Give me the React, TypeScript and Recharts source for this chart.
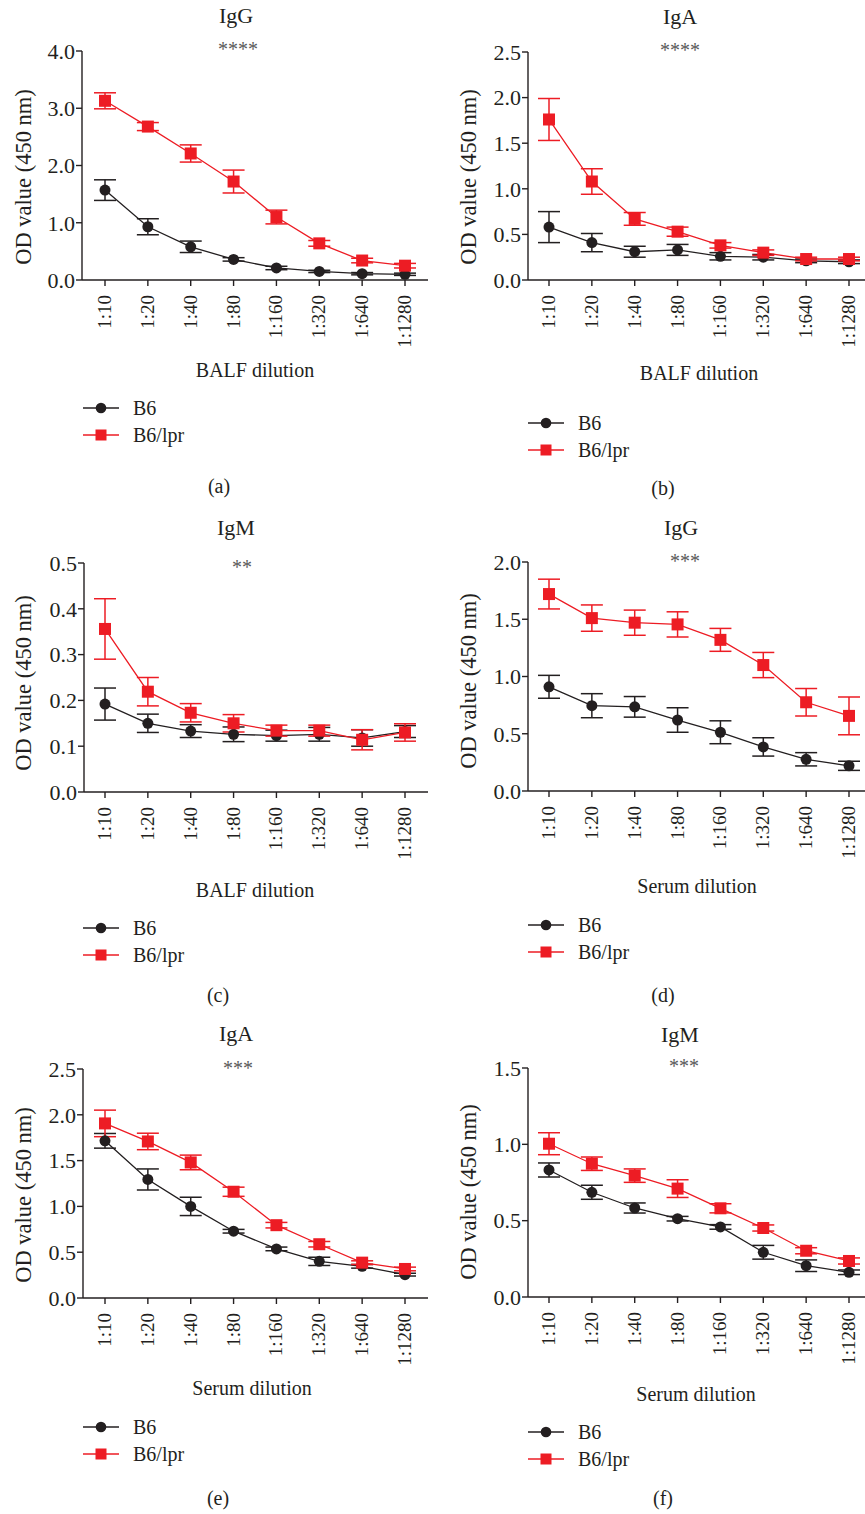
import React from 'react';
import { LineChart, Line, XAxis, YAxis, ErrorBar } from 'recharts';

const dilutions = ['1:10', '1:20', '1:40', '1:80', '1:160', '1:320', '1:640', '1:1280'];
const seriesNames = ['B6', 'B6/lpr'];

// (a) BALF IgG
const balfIgGB6 = [1.57, 0.93, 0.58, 0.36, 0.21, 0.15, 0.11, 0.1];
const balfIgGB6Err = [0.18, 0.14, 0.1, 0.03, 0.03, 0.02, 0.02, 0.02];
const balfIgGLpr = [3.13, 2.68, 2.21, 1.72, 1.1, 0.64, 0.34, 0.25];
const balfIgGLprErr = [0.14, 0.07, 0.15, 0.2, 0.12, 0.05, 0.04, 0.04];
const balfIgGTicks = [0, 1, 2, 3, 4];

// (b) BALF IgA
const balfIgAB6 = [0.58, 0.41, 0.31, 0.33, 0.26, 0.25, 0.21, 0.2];
const balfIgAB6Err = [0.17, 0.1, 0.06, 0.06, 0.04, 0.03, 0.02, 0.02];
const balfIgALpr = [1.76, 1.08, 0.67, 0.53, 0.38, 0.3, 0.23, 0.23];
const balfIgALprErr = [0.23, 0.14, 0.07, 0.05, 0.03, 0.03, 0.02, 0.02];
const balfIgATicks = [0, 0.5, 1, 1.5, 2, 2.5];

// (c) BALF IgM
const balfIgMB6 = [0.192, 0.15, 0.133, 0.126, 0.123, 0.126, 0.118, 0.132];
const balfIgMB6Err = [0.035, 0.02, 0.014, 0.016, 0.012, 0.015, 0.018, 0.013];
const balfIgMLpr = [0.356, 0.219, 0.173, 0.15, 0.134, 0.134, 0.114, 0.13];
const balfIgMLprErr = [0.066, 0.031, 0.02, 0.019, 0.012, 0.012, 0.022, 0.019];
const balfIgMTicks = [0, 0.1, 0.2, 0.3, 0.4, 0.5];

// (d) Serum IgG
const serumIgGB6 = [0.91, 0.745, 0.735, 0.62, 0.513, 0.385, 0.277, 0.22];
const serumIgGB6Err = [0.1, 0.105, 0.09, 0.107, 0.1, 0.08, 0.058, 0.04];
const serumIgGLpr = [1.72, 1.51, 1.47, 1.455, 1.32, 1.1, 0.775, 0.656];
const serumIgGLprErr = [0.13, 0.115, 0.11, 0.11, 0.1, 0.11, 0.12, 0.165];
const serumIgGTicks = [0, 0.5, 1, 1.5, 2];

// (e) Serum IgA
const serumIgAB6 = [1.716, 1.294, 1.0, 0.729, 0.536, 0.4, 0.346, 0.255];
const serumIgAB6Err = [0.08, 0.115, 0.1, 0.02, 0.02, 0.045, 0.02, 0.015];
const serumIgALpr = [1.906, 1.709, 1.48, 1.16, 0.795, 0.587, 0.386, 0.317];
const serumIgALprErr = [0.145, 0.09, 0.08, 0.05, 0.03, 0.03, 0.02, 0.02];
const serumIgATicks = [0, 0.5, 1, 1.5, 2, 2.5];

// (f) Serum IgM
const serumIgMB6 = [0.832, 0.686, 0.583, 0.513, 0.459, 0.293, 0.205, 0.162];
const serumIgMB6Err = [0.046, 0.046, 0.033, 0.015, 0.015, 0.045, 0.038, 0.015];
const serumIgMLpr = [1.004, 0.873, 0.795, 0.71, 0.581, 0.452, 0.303, 0.236];
const serumIgMLprErr = [0.072, 0.044, 0.044, 0.058, 0.03, 0.02, 0.02, 0.02];
const serumIgMTicks = [0, 0.5, 1, 1.5];

const FONT = '"Liberation Serif", "Times New Roman", serif';
const INK = '#231F20';
const RED = '#ED1C24';
const STAR = '#5a5a5a';

// layout of the six panels (pixel positions in the page)
const LEFT = { x0: 0, firstTick: 105, lastTick: 405, axisEnd: 428, yLabelX: 31, legX: 83 };
const RIGHT = { x0: 432, axisX: 528, firstTick: 549, lastTick: 849, axisEnd: 865, yLabelX: 476, legX: 528 };

const panels = [
  {
    ...LEFT, id: 'a', title: 'IgG', stars: '****', xLabel: 'BALF dilution',
    b6: balfIgGB6, b6Err: balfIgGB6Err, lpr: balfIgGLpr, lprErr: balfIgGLprErr, ticks: balfIgGTicks,
    axisX: 82, plotTop: 51, plotBottom: 280,
    titleX: 236, titleY: 23, starsX: 238, starsY: 56, yLabelY: 177,
    xLabelX: 255, xLabelY: 377, legY: 408, capX: 219, capY: 493,
  },
  {
    ...RIGHT, id: 'b', title: 'IgA', stars: '****', xLabel: 'BALF dilution',
    b6: balfIgAB6, b6Err: balfIgAB6Err, lpr: balfIgALpr, lprErr: balfIgALprErr, ticks: balfIgATicks,
    plotTop: 52, plotBottom: 280,
    titleX: 680, titleY: 24, starsX: 680, starsY: 57, yLabelY: 177,
    xLabelX: 699, xLabelY: 380, legY: 423, capX: 663, capY: 495,
  },
  {
    ...LEFT, id: 'c', title: 'IgM', stars: '**', xLabel: 'BALF dilution',
    b6: balfIgMB6, b6Err: balfIgMB6Err, lpr: balfIgMLpr, lprErr: balfIgMLprErr, ticks: balfIgMTicks,
    axisX: 84, plotTop: 563, plotBottom: 792,
    titleX: 236, titleY: 535, starsX: 242, starsY: 574, yLabelY: 683,
    xLabelX: 255, xLabelY: 897, legY: 928, capX: 218, capY: 1002,
  },
  {
    ...RIGHT, id: 'd', title: 'IgG', stars: '***', xLabel: 'Serum dilution',
    b6: serumIgGB6, b6Err: serumIgGB6Err, lpr: serumIgGLpr, lprErr: serumIgGLprErr, ticks: serumIgGTicks,
    plotTop: 562, plotBottom: 791,
    titleX: 681, titleY: 535, starsX: 685, starsY: 568, yLabelY: 681,
    xLabelX: 697, xLabelY: 893, legY: 925, capX: 663, capY: 1002,
  },
  {
    ...LEFT, id: 'e', title: 'IgA', stars: '***', xLabel: 'Serum dilution',
    b6: serumIgAB6, b6Err: serumIgAB6Err, lpr: serumIgALpr, lprErr: serumIgALprErr, ticks: serumIgATicks,
    axisX: 83, plotTop: 1069, plotBottom: 1298,
    titleX: 236, titleY: 1041, starsX: 238, starsY: 1075, yLabelY: 1195,
    xLabelX: 252, xLabelY: 1395, legY: 1427, capX: 218, capY: 1505,
  },
  {
    ...RIGHT, id: 'f', title: 'IgM', stars: '***', xLabel: 'Serum dilution',
    b6: serumIgMB6, b6Err: serumIgMB6Err, lpr: serumIgMLpr, lprErr: serumIgMLprErr, ticks: serumIgMTicks,
    plotTop: 1068, plotBottom: 1297,
    titleX: 680, titleY: 1042, starsX: 684, starsY: 1073, yLabelY: 1192,
    xLabelX: 696, xLabelY: 1401, legY: 1432, capX: 663, capY: 1505,
  },
];

const XTick = (props: any) => {
  const { x, y, payload } = props;
  return (
    <text
      transform={`translate(${x + 6},${y + 7}) rotate(-90)`}
      textAnchor="end"
      fontSize={19}
      fontFamily={FONT}
      fill={INK}
    >
      {payload.value}
    </text>
  );
};

const CircleDot = (props: any) => {
  const { cx, cy, index } = props;
  if (cx == null || cy == null) return <g key={index} />;
  return <circle key={index} cx={cx} cy={cy} r={5.5} fill={INK} />;
};

const SquareDot = (props: any) => {
  const { cx, cy, index } = props;
  if (cx == null || cy == null) return <g key={index} />;
  return <rect key={index} x={cx - 6} y={cy - 6} width={12} height={12} fill={RED} />;
};

const X_AXIS_H = 72;
const TOP_PAD = 20;

function Panel({ p }: { p: any }) {
  const data = dilutions.map((d, i) => ({
    name: d,
    b6: p.b6[i],
    b6Err: p.b6Err[i],
    lpr: p.lpr[i],
    lprErr: p.lprErr[i],
  }));
  const plotH = p.plotBottom - p.plotTop;
  const width = p.axisEnd - p.x0 + 2;
  const height = TOP_PAD + plotH + X_AXIS_H;
  const top = p.ticks[p.ticks.length - 1];

  return (
    <div style={{ position: 'absolute', left: p.x0, top: p.plotTop - TOP_PAD }}>
      <LineChart
        width={width}
        height={height}
        data={data}
        margin={{ top: TOP_PAD, right: 2, bottom: 0, left: 0 }}
        style={{ fontFamily: FONT }}
      >
        <XAxis
          dataKey="name"
          interval={0}
          height={X_AXIS_H}
          padding={{ left: p.firstTick - p.axisX, right: p.axisEnd - p.lastTick }}
          axisLine={{ stroke: INK, strokeWidth: 1.4 }}
          tickLine={{ stroke: INK, strokeWidth: 1.4 }}
          tickSize={6}
          tick={<XTick />}
        />
        <YAxis
          width={p.axisX - p.x0}
          domain={[0, top]}
          ticks={p.ticks}
          interval={0}
          allowDataOverflow
          axisLine={{ stroke: INK, strokeWidth: 1.4 }}
          tickLine={{ stroke: INK, strokeWidth: 1.4 }}
          tickSize={6}
          tickMargin={1}
          tickFormatter={(v: number) => v.toFixed(1)}
          tick={{ fontSize: 22, fill: INK, fontFamily: FONT }}
        />
        <Line
          dataKey="b6"
          name={seriesNames[0]}
          stroke={INK}
          strokeWidth={1.3}
          dot={CircleDot}
          activeDot={false}
          isAnimationActive={false}
        >
          <ErrorBar dataKey="b6Err" width={11} stroke={INK} strokeWidth={1.5} direction="y" />
        </Line>
        <Line
          dataKey="lpr"
          name={seriesNames[1]}
          stroke={RED}
          strokeWidth={1.3}
          dot={SquareDot}
          activeDot={false}
          isAnimationActive={false}
        >
          <ErrorBar dataKey="lprErr" width={11} stroke={RED} strokeWidth={1.5} direction="y" />
        </Line>
      </LineChart>
    </div>
  );
}

function Overlay() {
  return (
    <svg
      width={865}
      height={1514}
      style={{ position: 'absolute', left: 0, top: 0, pointerEvents: 'none' }}
      fontFamily={FONT}
    >
      {panels.map((p) => (
        <g key={p.id}>
          <text x={p.titleX} y={p.titleY} textAnchor="middle" fontSize={22} fill={INK}>
            {p.title}
          </text>
          <text x={p.starsX} y={p.starsY} textAnchor="middle" fontSize={20} fill={STAR}>
            {p.stars}
          </text>
          <text
            transform={`translate(${p.yLabelX},${p.yLabelY}) rotate(-90)`}
            textAnchor="middle"
            fontSize={22.5}
            fill={INK}
          >
            OD value (450 nm)
          </text>
          <text x={p.xLabelX} y={p.xLabelY} textAnchor="middle" fontSize={20} fill={INK}>
            {p.xLabel}
          </text>
          {/* legend */}
          <line x1={p.legX} x2={p.legX + 36} y1={p.legY} y2={p.legY} stroke={INK} strokeWidth={1.3} />
          <circle cx={p.legX + 18} cy={p.legY} r={5.3} fill={INK} />
          <text x={p.legX + 50} y={p.legY + 6.5} fontSize={20} fill={INK}>
            {seriesNames[0]}
          </text>
          <line x1={p.legX} x2={p.legX + 36} y1={p.legY + 27} y2={p.legY + 27} stroke={RED} strokeWidth={1.3} />
          <rect x={p.legX + 12.5} y={p.legY + 21.5} width={11} height={11} fill={RED} />
          <text x={p.legX + 50} y={p.legY + 33.5} fontSize={20} fill={INK}>
            {seriesNames[1]}
          </text>
          <text x={p.capX} y={p.capY} textAnchor="middle" fontSize={20} fill={INK}>
            ({p.id})
          </text>
        </g>
      ))}
    </svg>
  );
}

export default function App() {
  return (
    <div
      style={{
        position: 'absolute',
        left: 0,
        top: 0,
        width: 865,
        height: 1514,
        overflow: 'hidden',
        background: '#fff',
        fontFamily: FONT,
      }}
    >
      {panels.map((p) => (
        <Panel key={p.id} p={p} />
      ))}
      <Overlay />
    </div>
  );
}
